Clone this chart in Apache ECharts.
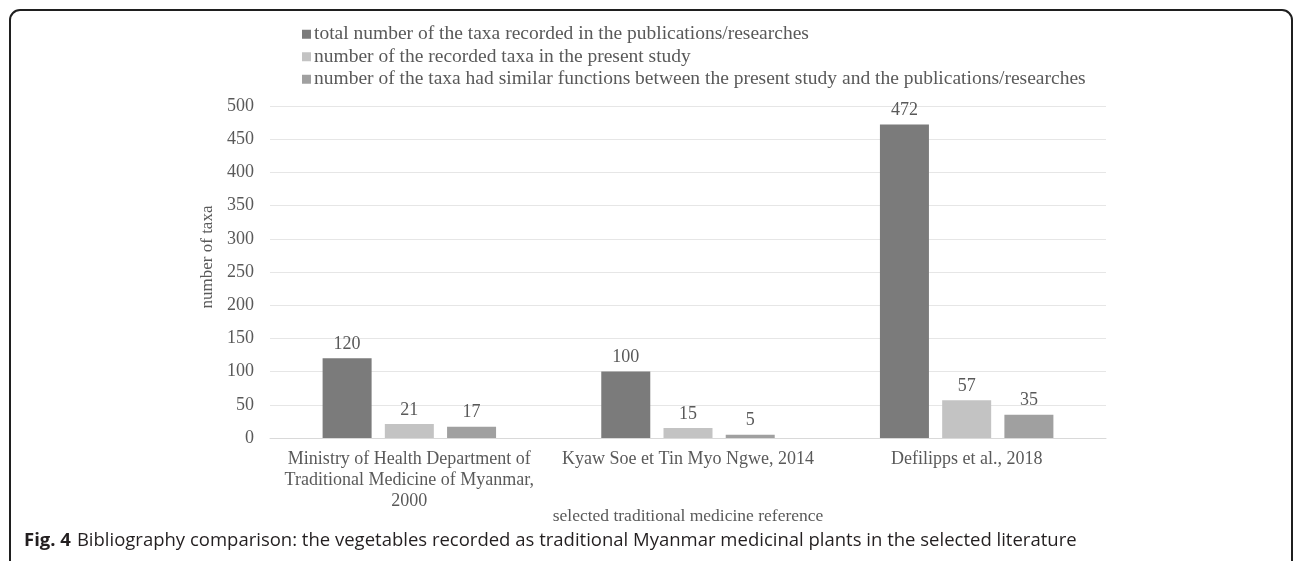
<!DOCTYPE html>
<html>
<head>
<meta charset="utf-8">
<script src="https://cdn.jsdelivr.net/npm/echarts@6/dist/echarts.min.js"></script>
<style>
  html, body { margin: 0; padding: 0; background: #ffffff; }
  #chart { width: 1295px; height: 561px; }
</style>
</head>
<body>
<div id="chart"></div>
<script>
// Reference works compared
const categories = [
  'Ministry of Health Department of\nTraditional Medicine of Myanmar,\n2000',
  'Kyaw Soe et Tin Myo Ngwe, 2014',
  'Defilipps et al., 2018'
];
const seriesNames = [
  'total number of the taxa recorded in the publications/researches',
  'number of the recorded taxa in the present study',
  'number of the taxa had similar functions between the present study and the publications/researches'
];
const totalTaxa = [120, 100, 472];
const presentStudyTaxa = [21, 15, 57];
const similarFunctionTaxa = [17, 5, 35];
const yTicks = [0, 50, 100, 150, 200, 250, 300, 350, 400, 450, 500];

const serif = '"Liberation Serif", "DejaVu Serif", serif';
const textGrey = '#595959';
const colors = ['#7b7b7b', '#c3c3c3', '#a0a0a0'];
const values = [totalTaxa, presentStudyTaxa, similarFunctionTaxa];

const chart = echarts.init(document.getElementById('chart'), null, { renderer: 'canvas' });

chart.setOption({
  animation: false,
  backgroundColor: '#ffffff',
  color: colors,
  legend: {
    orient: 'vertical',
    left: 297,
    top: 18,
    padding: 5,
    itemWidth: 9,
    itemHeight: 9,
    itemGap: 0,
    icon: 'rect',
    textStyle: {
      fontFamily: serif, fontSize: 19.5, color: textGrey, lineHeight: 22.5,
      padding: [0, 0, 0, -2]
    },
    data: seriesNames
  },
  grid: { left: 270, right: 189, top: 106, bottom: 123, containLabel: false },
  xAxis: {
    type: 'category',
    data: categories,
    axisLine: { show: true, lineStyle: { color: '#d9d9d9', width: 1 } },
    axisTick: { show: false },
    axisLabel: {
      fontFamily: serif, fontSize: 18, color: textGrey,
      lineHeight: 21, margin: 11, interval: 0
    }
  },
  yAxis: {
    type: 'value',
    min: yTicks[0],
    max: yTicks[yTicks.length - 1],
    interval: yTicks[1] - yTicks[0],
    axisLine: { show: false },
    axisTick: { show: false },
    splitLine: { lineStyle: { color: '#e6e6e6', width: 1 } },
    axisLabel: { fontFamily: serif, fontSize: 18, color: textGrey, margin: 16 }
  },
  series: seriesNames.map((name, i) => ({
    name: name,
    type: 'bar',
    data: values[i],
    barWidth: 49,
    barGap: '27%',
    itemStyle: { color: colors[i] },
    label: {
      show: true,
      position: 'top',
      distance: 5,
      fontFamily: serif,
      fontSize: 18,
      color: textGrey
    }
  })),
  graphic: [
    {
      type: 'rect',
      shape: { x: 10, y: 10, width: 1282, height: 600, r: 10 },
      style: { fill: 'none', stroke: '#1f1f1f', lineWidth: 2 },
      silent: true
    },
    {
      type: 'text',
      x: 208, y: 257,
      rotation: Math.PI / 2,
      style: {
        text: 'number of taxa',
        font: '17px ' + serif,
        fill: textGrey,
        textAlign: 'center',
        textVerticalAlign: 'middle'
      }
    },
    {
      type: 'text',
      x: 688, y: 516,
      style: {
        text: 'selected traditional medicine reference',
        font: '17.5px ' + serif,
        fill: textGrey,
        textAlign: 'center',
        textVerticalAlign: 'middle'
      }
    },
    {
      type: 'text',
      x: 24, y: 541,
      style: {
        text: '{b|Fig. 4}{r|Bibliography comparison: the vegetables recorded as traditional Myanmar medicinal plants in the selected literature}',
        textVerticalAlign: 'middle',
        rich: {
          b: { fontFamily: '"Open Sans", sans-serif', fontSize: 18.5, fontWeight: 'bold', fill: '#231f20', padding: [0, 6, 0, 0] },
          r: { fontFamily: '"Open Sans", sans-serif', fontSize: 18.5, fill: '#231f20' }
        }
      }
    }
  ]
});
</script>
</body>
</html>
